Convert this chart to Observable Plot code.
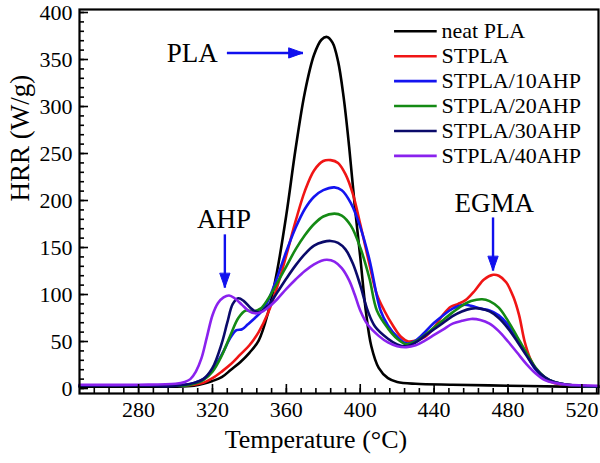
<!DOCTYPE html>
<html><head><meta charset="utf-8">
<script src="https://cdn.jsdelivr.net/npm/d3@7"></script>
<script src="https://cdn.jsdelivr.net/npm/@observablehq/plot@0.6"></script>
<style>body{margin:0;background:#fff} svg{display:block}</style>
</head><body><div id="chart"></div>
<script>
// ---- data (Temperature °C, HRR W/g) ----
const neatPLA = [[248,2],[270,2],[290,2],[300,2],[310,3],[315,5],[320,8],[325,12],[330,20],[335,28],[340,38],[345,51],[350,80],[355,125],[360,185],[365,255],[370,315],[375,355],[379,371],[382,374],[385,368],[388,348],[391,310],[394,257],[397,195],[400,140],[403,83],[406,45],[410,22],[415,11],[420,7],[430,5],[450,4],[480,3],[510,2],[529,2]];
const stpla = [[248,3],[280,3],[300,3],[310,4],[315,6],[320,11],[325,18],[330,26],[335,36],[340,46],[345,60],[350,80],[355,108],[360,142],[365,178],[370,210],[375,232],[380,242],[384,243],[388,240],[392,228],[396,207],[400,175],[405,132],[409,100],[413,83],[418,66],[422,55],[426,50],[430,51],[435,55],[440,65],[445,79],[449,87],[453,90],[457,94],[462,104],[467,116],[472,121],[475,120],[479,113],[483,97],[486,78],[489,50],[492,32],[496,18],[500,10],[505,6],[512,4],[529,2]];
const ahp10 = [[248,3],[280,3],[300,3],[305,4],[310,6],[315,10],[320,20],[325,36],[330,55],[333,62],[336,63],[339,68],[343,75],[347,83],[350,93],[355,118],[360,146],[365,171],[370,191],[375,204],[380,211],[386,214],[390,211],[395,197],[400,172],[405,137],[411,83],[415,67],[420,55],[425,48],[430,51],[435,60],[440,70],[445,78],[450,85],[456,89],[460,88],[465,85],[470,83],[475,78],[480,68],[485,52],[490,36],[495,20],[500,11],[505,7],[512,4],[529,2]];
const ahp20 = [[248,3],[280,3],[300,3],[305,3],[310,5],[315,9],[320,18],[325,35],[330,58],[334,75],[338,83],[342,82],[346,85],[350,95],[355,112],[360,130],[365,148],[370,163],[375,175],[380,183],[386,186],[390,184],[395,173],[400,150],[405,117],[409,83],[415,64],[420,53],[425,47],[430,50],[435,57],[440,65],[445,73],[450,81],[455,88],[460,93],[466,95],[470,93],[475,86],[480,72],[485,55],[490,38],[495,22],[500,12],[505,7],[512,4],[529,2]];
const ahp30 = [[248,3],[280,3],[300,3],[305,4],[310,6],[315,10],[320,22],[325,48],[328,70],[331,90],[334,96],[337,93],[341,85],[345,81],[350,88],[355,102],[360,117],[365,131],[370,143],[375,152],[380,156],[384,157],[388,155],[392,148],[396,133],[400,110],[404,83],[408,66],[415,53],[420,47],[425,45],[430,49],[435,56],[440,63],[445,70],[450,77],[455,82],[460,85],[465,85],[470,82],[475,75],[480,64],[485,50],[490,35],[495,21],[500,12],[505,7],[512,4],[529,2]];
const ahp40 = [[248,4],[280,4],[300,5],[305,7],[308,10],[311,18],[314,32],[317,55],[320,78],[323,91],[326,97],[329,99],[332,96],[336,89],[340,82],[343,80],[346,81],[350,86],[355,95],[360,106],[365,116],[370,125],[375,132],[379,136],[382,137],[386,135],[390,128],[394,115],[397,100],[400,83],[404,68],[410,56],[415,49],[420,45],[425,44],[430,46],[435,51],[440,57],[445,63],[450,69],[455,72],[460,74],[465,73],[470,69],[475,61],[480,50],[485,38],[490,26],[495,16],[500,9],[505,6],[512,4],[529,3]];

const seriesNames = ["neat PLA","STPLA","STPLA/10AHP","STPLA/20AHP","STPLA/30AHP","STPLA/40AHP"];
const seriesData = [neatPLA, stpla, ahp10, ahp20, ahp30, ahp40];
const seriesColors = ["#000000","#f01515","#1414f0","#148a14","#0a0a6a","#8a22ee"];

const xMajor = [280,320,360,400,440,480,520];
const xMinor = d3.range(256, 529, 8);
const yMajor = [0,50,100,150,200,250,300,350,400];
const yMinor = d3.range(0, 401, 10);

const xTitle = "Temperature (°C)";
const yTitle = "HRR (W/g)";

// annotations: label text and arrows (data coordinates)
const notes = [
  {text:"PLA", x:309, y:357},
  {text:"AHP", x:326.2, y:180},
  {text:"EGMA", x:472.5, y:197}
];
const arrows = [
  {x1:327.8, y1:357, x2:369, y2:357, rot:90},
  {x1:326.7, y1:164, x2:326.7, y2:107.4, rot:180},
  {x1:471.9, y1:182, x2:471.9, y2:125.5, rot:180}
];
const arrowColor = "#1010ee";

// legend positions (data coords)
const legendX1 = 418.3, legendX2 = 441.4, legendTextX = 444;
const legendY0 = 380, legendStep = 26.5;

// ---- build tables ----
const rows = seriesData.flatMap((arr, i) => arr.map(([t, v]) => ({series: seriesNames[i], t, v})));
const legendRows = seriesNames.map((s, i) => ({series: s, y: legendY0 - i * legendStep}));

const headShape = {
  draw(context, l, r) {
    context.moveTo(-r, 0);
    context.lineTo(0, -l);
    context.lineTo(r, 0);
    context.closePath();
  }
};

const chart = Plot.plot({
  width: 600, height: 463,
  marginLeft: 79, marginRight: 2, marginTop: 9, marginBottom: 70,
  style: {fontFamily: "'Liberation Serif', 'Times New Roman', serif", background: "#fff", color: "#000", overflow: "visible"},
  x: {domain: [248, 529]},
  y: {domain: [-5.3, 403.2]},
  color: {domain: seriesNames, range: seriesColors},
  marks: [
    Plot.line(rows, {x: "t", y: "v", z: "series", stroke: "series", strokeWidth: 2.6, curve: "catmull-rom"}),
    // axes ticks (inward)
    Plot.axisX({ticks: xMinor, tickSize: -5, tickFormat: () => "", label: null, strokeWidth: 1.6}),
    Plot.axisX({ticks: xMajor, tickSize: -9, tickFormat: () => "", label: null, strokeWidth: 1.6}),
    Plot.axisX({ticks: xMajor, tickSize: 0, tickPadding: 8, fontSize: 22, label: null}),
    Plot.axisY({ticks: yMinor, tickSize: -5, tickFormat: () => "", label: null, strokeWidth: 1.6}),
    Plot.axisY({ticks: yMajor, tickSize: -9, tickFormat: () => "", label: null, strokeWidth: 1.6}),
    Plot.axisY({ticks: yMajor, tickSize: 0, tickPadding: 7, fontSize: 22, label: null}),
    Plot.frame({strokeWidth: 2.2}),
    // axis titles
    Plot.text([{s: xTitle, x: 376}], {x: "x", text: "s", frameAnchor: "bottom", dy: 54, fontSize: 26}),
    Plot.text([yTitle], {text: d => d, frameAnchor: "left", dx: -59, rotate: -90, fontSize: 27}),
    // legend
    Plot.link(legendRows, {x1: () => legendX1, x2: () => legendX2, y1: "y", y2: "y", stroke: "series", strokeWidth: 2.6}),
    Plot.text(legendRows, {x: () => legendTextX, y: "y", text: "series", textAnchor: "start", fontSize: 22, fill: "#000"}),
    // annotations
    Plot.text(notes, {x: "x", y: "y", text: "text", fontSize: 27, fill: "#000"}),
    Plot.link(arrows, {x1: "x1", y1: "y1", x2: "x2", y2: "y2", stroke: arrowColor, strokeWidth: 2.4}),
    Plot.vector(arrows, {x: "x2", y: "y2", rotate: "rot", length: 14, r: 5, anchor: "end", shape: headShape, stroke: arrowColor, fill: arrowColor, strokeWidth: 1})
  ]
});
document.getElementById("chart").appendChild(chart);
</script>
</body></html>
